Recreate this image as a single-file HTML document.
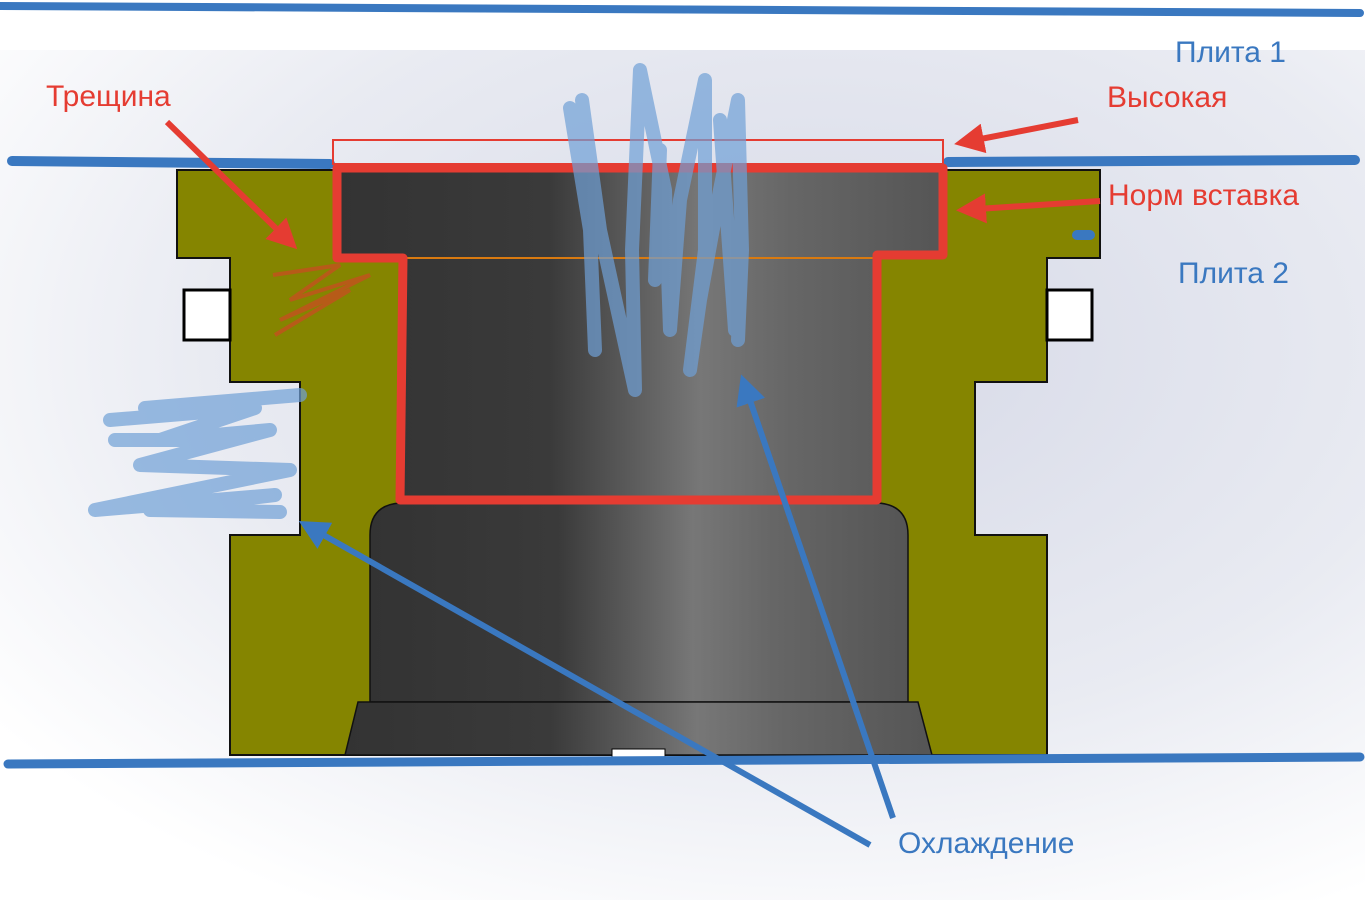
<!DOCTYPE html>
<html><head><meta charset="utf-8"><style>
html,body{margin:0;padding:0;background:#fff}
svg{display:block}
text{font-family:"Liberation Sans",sans-serif;font-size:30px}
</style></head><body>
<svg width="1365" height="906" viewBox="0 0 1365 906" xmlns="http://www.w3.org/2000/svg">
<defs>
<radialGradient id="bg" cx="0.6" cy="0.35" r="0.75">
<stop offset="0" stop-color="#d6d9e7"/><stop offset="0.6" stop-color="#e9ebf2"/><stop offset="1" stop-color="#ffffff"/>
</radialGradient>
<linearGradient id="dk" x1="0" x2="1" y1="0" y2="0">
<stop offset="0" stop-color="#333"/><stop offset="0.35" stop-color="#3a3a3a"/><stop offset="0.6" stop-color="#777"/><stop offset="0.75" stop-color="#666"/><stop offset="1" stop-color="#555"/>
</linearGradient>
<marker id="ar" viewBox="0 0 10 10" refX="8" refY="5" markerWidth="5" markerHeight="5" orient="auto"><path d="M0,0L10,5L0,10z" fill="#e53c32"/></marker>
<marker id="ab" viewBox="0 0 10 10" refX="8" refY="5" markerWidth="5" markerHeight="5" orient="auto"><path d="M0,0L10,5L0,10z" fill="#3a78c0"/></marker>
</defs>
<rect x="0" y="50" width="1365" height="850" fill="url(#bg)"/>
<rect x="0" y="0" width="1365" height="50" fill="#fff"/>
<path d="M177,170 H1100 V258 H1047 V382 H975 V535 H1047 V755 H230 V535 H300 V382 H230 V258 H177 Z" fill="#858500" stroke="#111" stroke-width="2"/>
<rect x="184" y="290" width="46" height="50" fill="#fff" stroke="#000" stroke-width="3"/>
<rect x="1047" y="290" width="45" height="50" fill="#fff" stroke="#000" stroke-width="3"/>
<path d="M337,170 H943 V255 H877 V500 H400 L403,258 H337 Z" fill="url(#dk)"/>
<path d="M370,535 Q370,505 400,503 H878 Q908,505 908,535 V702 H370 Z" fill="url(#dk)" stroke="#111" stroke-width="1.5"/>
<path d="M358,702 H918 L932,755 H345 Z" fill="url(#dk)" stroke="#111" stroke-width="1.5"/>
<rect x="612" y="749" width="53" height="8" fill="#fff" stroke="#000" stroke-width="1"/>
<line x1="340" y1="258" x2="875" y2="258" stroke="#d97a10" stroke-width="2"/>
<path d="M0,6 L1360,13" stroke="#3a78c0" stroke-width="8" stroke-linecap="round" fill="none"/>
<path d="M12,161 L330,164" stroke="#3a78c0" stroke-width="10" stroke-linecap="round"/>
<path d="M948,162 L1355,160" stroke="#3a78c0" stroke-width="10" stroke-linecap="round"/>
<path d="M8,764 L1360,757" stroke="#3a78c0" stroke-width="9" stroke-linecap="round"/>
<path d="M1077,235 H1090" stroke="#3a78c0" stroke-width="10" stroke-linecap="round"/>
<rect x="333" y="140" width="610" height="24" fill="none" stroke="#e53c32" stroke-width="2"/>
<path d="M337,168 H943 V255 H877 V500 H400 L403,258 H337 Z" fill="none" stroke="#e53c32" stroke-width="9" stroke-linejoin="round"/>
<path d="M273,275 L340,265 L290,300 L370,275 L280,320 L350,290 L275,335" fill="none" stroke="#c0541c" stroke-width="4" opacity="0.85"/>
<line x1="1078" y1="120" x2="960" y2="143" stroke="#e53c32" stroke-width="6" marker-end="url(#ar)"/>
<line x1="1100" y1="201" x2="962" y2="210" stroke="#e53c32" stroke-width="6" marker-end="url(#ar)"/>
<line x1="167" y1="122" x2="293" y2="245" stroke="#e53c32" stroke-width="6" marker-end="url(#ar)"/>
<g fill="none" stroke="#6f9fd6" stroke-width="14" stroke-linecap="round" stroke-linejoin="round" opacity="0.7">
<path d="M570,108 L590,230 L595,350 M582,100 L600,230 L635,390 L632,250 L640,70 L665,190 L670,330 L680,200 L705,80 L705,250 L690,370 L700,300 L720,190 L738,100 L742,250 L738,340 M660,150 L655,280 M720,120 L735,330"/>
<path d="M145,408 L300,395 M110,420 L255,408 L160,440 L270,430 L140,465 L290,470 L95,510 L275,495 L150,510 L280,512 M115,440 L220,440"/>
</g>
<line x1="870" y1="845" x2="304" y2="524" stroke="#3a78c0" stroke-width="6" marker-end="url(#ab)"/>
<line x1="893" y1="818" x2="743" y2="380" stroke="#3a78c0" stroke-width="6" marker-end="url(#ab)"/>
<text x="1175" y="62" fill="#3a78c0">Плита 1</text>
<text x="1107" y="107" fill="#e53c32">Высокая</text>
<text x="1108" y="205" fill="#e53c32">Норм вставка</text>
<text x="1178" y="283" fill="#3a78c0">Плита 2</text>
<text x="46" y="106" fill="#e53c32">Трещина</text>
<text x="898" y="853" fill="#3a78c0">Охлаждение</text>
</svg>
</body></html>
